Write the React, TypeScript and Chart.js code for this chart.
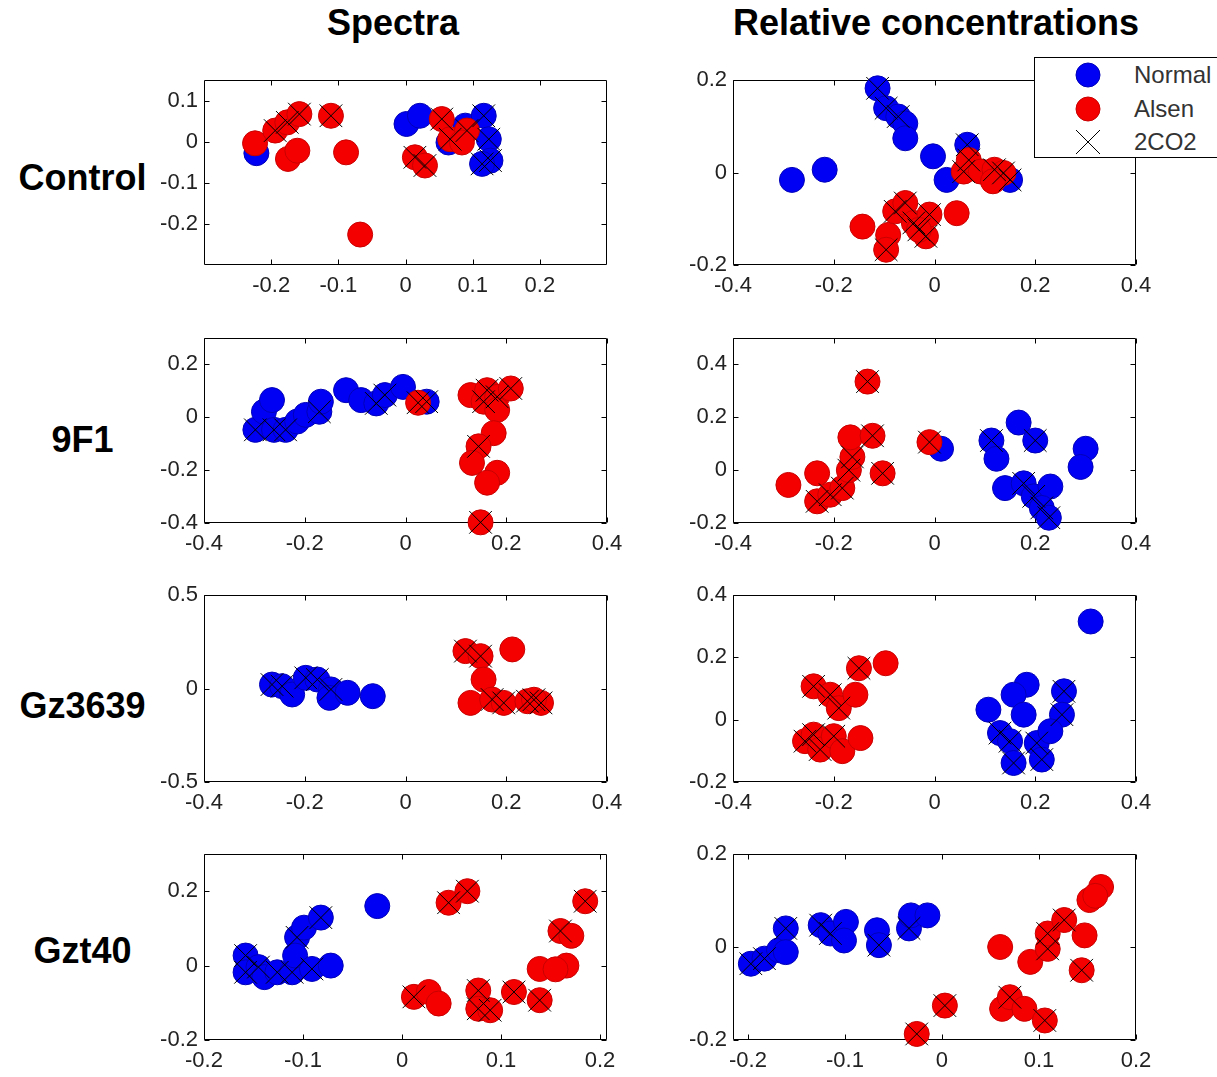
import React, { useEffect, useRef } from 'react';
import { Chart, registerables } from 'chart.js';

Chart.register(...registerables);

type Pt = [number, number];

const FONT = "'Liberation Sans', Arial, Helvetica, sans-serif";

// ---------- labels ----------
const columnTitles = ['Spectra', 'Relative concentrations'];
const rowLabels = ['Control', '9F1', 'Gz3639', 'Gzt40'];
const seriesNames = ['Normal', 'Alsen', '2CO2'];

// ---------- Control / Spectra ----------
const ctrlSpecNormal: Pt[] = [[-0.222, -0.028], [0.0015, 0.043], [0.0215, 0.063], [0.064, -0.002], [0.089, 0.039], [0.1165, 0.063], [0.124, 0.006], [0.1265, -0.046], [0.114, -0.054]];
const ctrlSpecAlsen: Pt[] = [[-0.224, -0.004], [-0.194, 0.027], [-0.176, 0.047], [-0.158, 0.067], [-0.175, -0.042], [-0.161, -0.022], [-0.111, 0.063], [-0.0885, -0.026], [-0.0675, -0.226], [0.014, -0.038], [0.029, -0.058], [0.054, 0.055], [0.0665, 0.006], [0.0915, 0.027], [0.084, -0.002]];
const ctrlSpec2CO2: Pt[] = [[-0.194, 0.027], [-0.176, 0.047], [-0.158, 0.067], [-0.111, 0.063], [0.014, -0.038], [0.029, -0.058], [0.054, 0.055], [0.0665, 0.006], [0.0915, 0.027], [0.1165, 0.063], [0.124, 0.006], [0.1265, -0.046], [0.114, -0.054]];
const ctrlSpecXRange = [-0.3, 0.3];
const ctrlSpecXTicks = [-0.2, -0.1, 0, 0.1, 0.2];
const ctrlSpecYRange = [-0.3, 0.15];
const ctrlSpecYTicks = [-0.2, -0.1, 0, 0.1];

// ---------- Control / Relative concentrations ----------
const ctrlRelNormal: Pt[] = [[-0.113, 0.182], [-0.096, 0.139], [-0.072, 0.121], [-0.058, 0.106], [-0.058, 0.074], [-0.283, -0.016], [-0.218, 0.006], [-0.003, 0.035], [0.024, -0.016], [0.065, 0.06], [0.15, -0.016]];
const ctrlRelAlsen: Pt[] = [[0.058, 0.002], [0.068, 0.027], [0.092, 0.002], [0.119, 0.006], [0.137, -0.001], [0.116, -0.019], [-0.143, -0.117], [-0.092, -0.135], [-0.096, -0.167], [-0.078, -0.084], [-0.058, -0.066], [-0.041, -0.109], [-0.017, -0.138], [-0.01, -0.091], [0.044, -0.088], [-0.031, -0.124]];
const ctrlRel2CO2: Pt[] = [[-0.113, 0.182], [-0.096, 0.139], [-0.072, 0.121], [0.065, 0.06], [0.15, -0.016], [0.058, 0.002], [0.068, 0.027], [0.119, 0.006], [0.137, -0.001], [-0.096, -0.167], [-0.078, -0.084], [-0.058, -0.066], [-0.041, -0.109], [-0.017, -0.138], [-0.01, -0.091], [-0.031, -0.124]];
const ctrlRelXRange = [-0.4, 0.4];
const ctrlRelXTicks = [-0.4, -0.2, 0, 0.2, 0.4];
const ctrlRelYRange = [-0.2, 0.2];
const ctrlRelYTicks = [-0.2, 0, 0.2];

// ---------- 9F1 / Spectra ----------
const f91SpecNormal: Pt[] = [[-0.298, -0.0475], [-0.281, 0.021], [-0.265, 0.065], [-0.261, -0.0475], [-0.238, -0.0475], [-0.215, -0.016], [-0.198, 0.009], [-0.171, 0.021], [-0.168, 0.059], [-0.118, 0.1025], [-0.088, 0.065], [-0.058, 0.0525], [-0.041, 0.084], [-0.005, 0.115], [0.042, 0.059]];
const f91SpecAlsen: Pt[] = [[0.025, 0.055], [0.129, 0.084], [0.155, 0.059], [0.162, 0.1025], [0.182, 0.0775], [0.209, 0.109], [0.182, 0.0275], [0.175, -0.06], [0.145, -0.11], [0.132, -0.1725], [0.182, -0.21], [0.162, -0.2475], [0.149, -0.3975]];
const f91Spec2CO2: Pt[] = [[-0.298, -0.0475], [-0.261, -0.0475], [-0.238, -0.0475], [-0.171, 0.021], [-0.058, 0.0525], [-0.041, 0.084], [0.042, 0.059], [0.025, 0.055], [0.155, 0.059], [0.162, 0.1025], [0.182, 0.0775], [0.209, 0.109], [0.145, -0.11], [0.149, -0.3975]];
const f91SpecXRange = [-0.4, 0.4];
const f91SpecXTicks = [-0.4, -0.2, 0, 0.2, 0.4];
const f91SpecYRange = [-0.4, 0.3];
const f91SpecYTicks = [-0.4, -0.2, 0, 0.2];

// ---------- 9F1 / Relative concentrations ----------
const f91RelNormal: Pt[] = [[0.013, 0.081], [0.113, 0.112], [0.123, 0.043], [0.167, 0.18], [0.2, 0.112], [0.3, 0.081], [0.29, 0.012], [0.14, -0.068], [0.177, -0.05], [0.197, -0.099], [0.23, -0.062], [0.213, -0.143], [0.227, -0.18]];
const f91RelAlsen: Pt[] = [[-0.29, -0.056], [-0.233, -0.012], [-0.233, -0.118], [-0.207, -0.093], [-0.183, -0.068], [-0.17, 0], [-0.163, 0.05], [-0.167, 0.124], [-0.123, 0.13], [-0.103, -0.012], [-0.133, 0.335], [-0.01, 0.106]];
const f91Rel2CO2: Pt[] = [[-0.233, -0.118], [-0.207, -0.093], [-0.183, -0.068], [-0.17, 0], [-0.163, 0.05], [-0.123, 0.13], [-0.103, -0.012], [-0.133, 0.335], [-0.01, 0.106], [0.113, 0.112], [0.2, 0.112], [0.177, -0.05], [0.197, -0.099], [0.213, -0.143], [0.227, -0.18]];
const f91RelXRange = [-0.4, 0.4];
const f91RelXTicks = [-0.4, -0.2, 0, 0.2, 0.4];
const f91RelYRange = [-0.2, 0.5];
const f91RelYTicks = [-0.2, 0, 0.2, 0.4];

// ---------- Gz3639 / Spectra ----------
const gzSpecNormal: Pt[] = [[-0.265, 0.021], [-0.245, 0.0125], [-0.225, -0.032], [-0.198, 0.057], [-0.175, 0.048], [-0.148, -0.005], [-0.151, -0.05], [-0.115, -0.023], [-0.065, -0.041]];
const gzSpecAlsen: Pt[] = [[0.119, 0.2], [0.149, 0.173], [0.212, 0.209], [0.155, 0.048], [0.129, -0.077], [0.172, -0.059], [0.195, -0.077], [0.242, -0.068], [0.269, -0.077], [0.255, -0.06]];
const gzSpec2CO2: Pt[] = [[-0.265, 0.021], [-0.245, 0.0125], [-0.198, 0.057], [-0.175, 0.048], [-0.148, -0.005], [0.119, 0.2], [0.149, 0.173], [0.172, -0.059], [0.195, -0.077], [0.242, -0.068], [0.269, -0.077], [0.255, -0.06]];
const gzSpecXRange = [-0.4, 0.4];
const gzSpecXTicks = [-0.4, -0.2, 0, 0.2, 0.4];
const gzSpecYRange = [-0.5, 0.5];
const gzSpecYTicks = [-0.5, 0, 0.5];

// ---------- Gz3639 / Relative concentrations ----------
const gzRelNormal: Pt[] = [[0.31, 0.315], [0.183, 0.112], [0.157, 0.08], [0.257, 0.091], [0.253, 0.016], [0.107, 0.032], [0.177, 0.016], [0.13, -0.043], [0.15, -0.069], [0.157, -0.139], [0.203, -0.075], [0.23, -0.037], [0.213, -0.128]];
const gzRelAlsen: Pt[] = [[-0.257, -0.069], [-0.24, -0.048], [-0.227, -0.096], [-0.2, -0.053], [-0.183, -0.101], [-0.147, -0.059], [-0.24, 0.107], [-0.207, 0.08], [-0.19, 0.037], [-0.157, 0.08], [-0.15, 0.165], [-0.097, 0.181]];
const gzRel2CO2: Pt[] = [[-0.257, -0.069], [-0.24, -0.048], [-0.227, -0.096], [-0.2, -0.053], [-0.24, 0.107], [-0.207, 0.08], [-0.19, 0.037], [-0.15, 0.165], [0.257, 0.091], [0.253, 0.016], [0.13, -0.043], [0.15, -0.069], [0.157, -0.139], [0.203, -0.075], [0.213, -0.128]];
const gzRelXRange = [-0.4, 0.4];
const gzRelXTicks = [-0.4, -0.2, 0, 0.2, 0.4];
const gzRelYRange = [-0.2, 0.4];
const gzRelYTicks = [-0.2, 0, 0.2, 0.4];

// ---------- Gzt40 / Spectra ----------
const gztSpecNormal: Pt[] = [[-0.158, 0.027], [-0.158, -0.018], [-0.145, -0.004], [-0.139, -0.031], [-0.126, -0.018], [-0.111, -0.018], [-0.106, 0.076], [-0.099, 0.102], [-0.082, 0.129], [-0.108, 0.027], [-0.091, -0.009], [-0.072, 0], [-0.025, 0.16]];
const gztSpecAlsen: Pt[] = [[0.047, 0.169], [0.066, 0.2], [0.012, -0.084], [0.027, -0.071], [0.037, -0.102], [0.077, -0.067], [0.077, -0.116], [0.089, -0.12], [0.113, -0.071], [0.139, -0.093], [0.139, -0.009], [0.166, 0], [0.16, 0.093], [0.171, 0.08], [0.185, 0.173], [0.155, -0.01]];
const gztSpec2CO2: Pt[] = [[-0.158, 0.027], [-0.158, -0.018], [-0.145, -0.004], [-0.126, -0.018], [-0.111, -0.018], [-0.106, 0.076], [-0.082, 0.129], [-0.091, -0.009], [0.047, 0.169], [0.066, 0.2], [0.012, -0.084], [0.077, -0.067], [0.077, -0.116], [0.089, -0.12], [0.113, -0.071], [0.139, -0.093], [0.16, 0.093], [0.185, 0.173]];
const gztSpecXRange = [-0.2, 0.207];
const gztSpecXTicks = [-0.2, -0.1, 0, 0.1, 0.2];
const gztSpecYRange = [-0.2, 0.3];
const gztSpecYTicks = [-0.2, 0, 0.2];

// ---------- Gzt40 / Relative concentrations ----------
const gztRelNormal: Pt[] = [[-0.197, -0.036], [-0.183, -0.025], [-0.168, -0.007], [-0.161, 0.04], [-0.161, -0.011], [-0.125, 0.047], [-0.115, 0.029], [-0.099, 0.054], [-0.101, 0.014], [-0.067, 0.036], [-0.065, 0.004], [-0.034, 0.04], [-0.032, 0.068], [-0.015, 0.068]];
const gztRelAlsen: Pt[] = [[-0.026, -0.187], [0.003, -0.126], [0.06, 0], [0.062, -0.133], [0.07, -0.108], [0.085, -0.133], [0.106, -0.158], [0.091, -0.032], [0.109, -0.004], [0.109, 0.029], [0.126, 0.058], [0.147, 0.025], [0.144, -0.05], [0.152, 0.101], [0.164, 0.129], [0.158, 0.11]];
const gztRel2CO2: Pt[] = [[-0.197, -0.036], [-0.183, -0.025], [-0.161, 0.04], [-0.125, 0.047], [-0.115, 0.029], [-0.065, 0.004], [-0.034, 0.04], [-0.026, -0.187], [0.003, -0.126], [0.07, -0.108], [0.106, -0.158], [0.109, -0.004], [0.109, 0.029], [0.126, 0.058], [0.144, -0.05]];
const gztRelXRange = [-0.2154, 0.2];
const gztRelXTicks = [-0.2, -0.1, 0, 0.1, 0.2];
const gztRelYRange = [-0.2, 0.2];
const gztRelYTicks = [-0.2, 0, 0.2];

// ---------- layout ----------
const COL_LEFT = [204, 733];
const BOX_W = 403;
const ROW_TOP = [80, 338, 595, 854];
const ROW_H = [185, 185, 187, 186];
const AXIS_W = 70;
const PAD_TOP = 20;
const PAD_RIGHT = 30;
const AXIS_H = 45;

interface Panel {
  normal: Pt[]; alsen: Pt[]; co2: Pt[];
  xRange: number[]; xTicks: number[]; yRange: number[]; yTicks: number[];
  row: number; col: number;
}

const panels: Panel[] = [
  { normal: ctrlSpecNormal, alsen: ctrlSpecAlsen, co2: ctrlSpec2CO2, xRange: ctrlSpecXRange, xTicks: ctrlSpecXTicks, yRange: ctrlSpecYRange, yTicks: ctrlSpecYTicks, row: 0, col: 0 },
  { normal: ctrlRelNormal, alsen: ctrlRelAlsen, co2: ctrlRel2CO2, xRange: ctrlRelXRange, xTicks: ctrlRelXTicks, yRange: ctrlRelYRange, yTicks: ctrlRelYTicks, row: 0, col: 1 },
  { normal: f91SpecNormal, alsen: f91SpecAlsen, co2: f91Spec2CO2, xRange: f91SpecXRange, xTicks: f91SpecXTicks, yRange: f91SpecYRange, yTicks: f91SpecYTicks, row: 1, col: 0 },
  { normal: f91RelNormal, alsen: f91RelAlsen, co2: f91Rel2CO2, xRange: f91RelXRange, xTicks: f91RelXTicks, yRange: f91RelYRange, yTicks: f91RelYTicks, row: 1, col: 1 },
  { normal: gzSpecNormal, alsen: gzSpecAlsen, co2: gzSpec2CO2, xRange: gzSpecXRange, xTicks: gzSpecXTicks, yRange: gzSpecYRange, yTicks: gzSpecYTicks, row: 2, col: 0 },
  { normal: gzRelNormal, alsen: gzRelAlsen, co2: gzRel2CO2, xRange: gzRelXRange, xTicks: gzRelXTicks, yRange: gzRelYRange, yTicks: gzRelYTicks, row: 2, col: 1 },
  { normal: gztSpecNormal, alsen: gztSpecAlsen, co2: gztSpec2CO2, xRange: gztSpecXRange, xTicks: gztSpecXTicks, yRange: gztSpecYRange, yTicks: gztSpecYTicks, row: 3, col: 0 },
  { normal: gztRelNormal, alsen: gztRelAlsen, co2: gztRel2CO2, xRange: gztRelXRange, xTicks: gztRelXTicks, yRange: gztRelYRange, yTicks: gztRelYTicks, row: 3, col: 1 },
];

const BLUE = '#0000f5';
const RED = '#f50000';
const TICK_LEN = 5;

const boxPlugin = {
  id: 'matlabBox',
  beforeDatasetsDraw(chart: any) {
    const { ctx, chartArea: a, scales } = chart;
    const L = Math.round(a.left) + 0.5;
    const R = Math.round(a.right) - 0.5;
    const T = Math.round(a.top) + 0.5;
    const B = Math.round(a.bottom) - 0.5;
    ctx.save();
    ctx.strokeStyle = '#000';
    ctx.lineWidth = 1;
    ctx.beginPath();
    ctx.rect(L, T, R - L, B - T);
    scales.x.ticks.forEach((t: any) => {
      const px = Math.round(scales.x.getPixelForValue(t.value)) + 0.5;
      ctx.moveTo(px, B); ctx.lineTo(px, B - TICK_LEN);
      ctx.moveTo(px, T); ctx.lineTo(px, T + TICK_LEN);
    });
    scales.y.ticks.forEach((t: any) => {
      const py = Math.round(scales.y.getPixelForValue(t.value)) + 0.5;
      ctx.moveTo(L, py); ctx.lineTo(L + TICK_LEN, py);
      ctx.moveTo(R, py); ctx.lineTo(R - TICK_LEN, py);
    });
    ctx.stroke();
    ctx.restore();
  },
};

const toXY = (pts: Pt[]) => pts.map(([x, y]) => ({ x, y }));

function ScatterPanel({ p }: { p: Panel }) {
  const ref = useRef<HTMLCanvasElement>(null);
  const w = BOX_W + AXIS_W + PAD_RIGHT;
  const h = ROW_H[p.row] + PAD_TOP + AXIS_H;
  useEffect(() => {
    if (!ref.current) return;
    const tickFont = { family: FONT, size: 22 };
    // Chart.js draws dataset 0 last (on top): crosses, then red, then blue underneath
    const chart = new Chart(ref.current, {
      type: 'scatter',
      data: {
        datasets: [
          { label: seriesNames[2], data: toXY(p.co2), pointStyle: 'crossRot', pointRadius: 16, backgroundColor: 'rgba(0,0,0,0)', borderColor: '#000', borderWidth: 1, clip: false } as any,
          { label: seriesNames[1], data: toXY(p.alsen), pointStyle: 'circle', pointRadius: 12.5, backgroundColor: RED, borderColor: '#c80000', borderWidth: 1, clip: false } as any,
          { label: seriesNames[0], data: toXY(p.normal), pointStyle: 'circle', pointRadius: 12.5, backgroundColor: BLUE, borderColor: '#0000b8', borderWidth: 1, clip: false } as any,
        ],
      },
      options: {
        animation: false,
        responsive: false,
        events: [],
        layout: { padding: { left: 0, top: PAD_TOP, right: PAD_RIGHT, bottom: 0 } },
        plugins: { legend: { display: false }, tooltip: { enabled: false } },
        scales: {
          x: {
            type: 'linear', min: p.xRange[0], max: p.xRange[1],
            grid: { display: false, drawTicks: false },
            border: { display: false },
            afterBuildTicks: (s: any) => { s.ticks = p.xTicks.map((v) => ({ value: v })); },
            afterFit: (s: any) => { s.height = AXIS_H; },
            ticks: { font: tickFont, color: '#222', padding: 8, maxRotation: 0, autoSkip: false, callback: (v: any) => String(Number(v)) },
          },
          y: {
            type: 'linear', min: p.yRange[0], max: p.yRange[1],
            grid: { display: false, drawTicks: false },
            border: { display: false },
            afterBuildTicks: (s: any) => { s.ticks = p.yTicks.map((v) => ({ value: v })); },
            afterFit: (s: any) => { s.width = AXIS_W; },
            ticks: { font: tickFont, color: '#222', padding: 6, autoSkip: false, callback: (v: any) => String(Number(v)) },
          },
        },
      } as any,
      plugins: [boxPlugin],
    });
    return () => chart.destroy();
  }, [p]);
  return (
    <canvas
      ref={ref}
      width={w}
      height={h}
      style={{ position: 'absolute', left: COL_LEFT[p.col] - AXIS_W, top: ROW_TOP[p.row] - PAD_TOP, width: w, height: h }}
    />
  );
}

const titleStyle: React.CSSProperties = {
  position: 'absolute', fontFamily: FONT, fontWeight: 'bold', fontSize: 36, lineHeight: '36px',
  color: '#000', textAlign: 'center', whiteSpace: 'nowrap',
};

const COL_CENTER = [393, 936];
const ROW_LABEL_TOP = [160, 422, 688, 933];
const LEGEND_ROWS = [75, 109, 142];

function Legend() {
  const left = 1034, top = 57, bottom = 158;
  const mx = 1088;
  const textStyle: React.CSSProperties = {
    position: 'absolute', left: 1134, fontFamily: FONT, fontSize: 24, lineHeight: '24px', color: '#333', whiteSpace: 'nowrap',
  };
  return (
    <>
      <div style={{ position: 'absolute', left, top, width: 200, height: bottom - top, border: '1px solid #000', background: '#fff', boxSizing: 'border-box' }} />
      <svg style={{ position: 'absolute', left: 0, top: 0 }} width={1217} height={200}>
        <circle cx={mx} cy={LEGEND_ROWS[0]} r={12} fill={BLUE} stroke="#0000b8" strokeWidth={1} />
        <circle cx={mx} cy={LEGEND_ROWS[1]} r={12} fill={RED} stroke="#c80000" strokeWidth={1} />
        <line x1={mx - 12} y1={LEGEND_ROWS[2] - 12} x2={mx + 12} y2={LEGEND_ROWS[2] + 12} stroke="#000" strokeWidth={1} />
        <line x1={mx - 12} y1={LEGEND_ROWS[2] + 12} x2={mx + 12} y2={LEGEND_ROWS[2] - 12} stroke="#000" strokeWidth={1} />
      </svg>
      {seriesNames.map((n, i) => (
        <div key={n} style={{ ...textStyle, top: LEGEND_ROWS[i] - 12 }}>{n}</div>
      ))}
    </>
  );
}

export default function App() {
  return (
    <div style={{ position: 'absolute', left: 0, top: 0, width: 1217, height: 1077, overflow: 'hidden', background: '#fff' }}>
      {columnTitles.map((t, i) => (
        <div key={t} style={{ ...titleStyle, left: COL_CENTER[i] - 300, width: 600, top: 5 }}>{t}</div>
      ))}
      {rowLabels.map((t, i) => (
        <div key={t} style={{ ...titleStyle, left: 0, width: 165, top: ROW_LABEL_TOP[i] }}>{t}</div>
      ))}
      {panels.map((p, i) => (
        <ScatterPanel key={i} p={p} />
      ))}
      <Legend />
    </div>
  );
}
